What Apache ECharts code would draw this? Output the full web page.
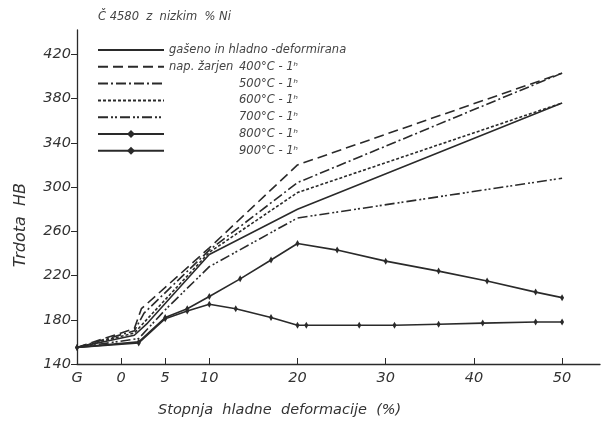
<!DOCTYPE html>
<html>
<head>
<meta charset="utf-8">
<script src="https://cdn.jsdelivr.net/npm/echarts@6/dist/echarts.min.js"></script>
<style>
html,body{margin:0;padding:0;background:#fff;}
#main{width:605px;height:428px;}
</style>
</head>
<body>
<div id="main"></div>
<script>
// ---- data ----
const xTickValues = [-5, 0, 5, 10, 20, 30, 40, 50];
const xTickLabels = ['G', '0', '5', '10', '20', '30', '40', '50'];
const yTickValues = [140, 180, 220, 260, 300, 340, 380, 420];

const seriesNames = [
  'gašeno in hladno -deformirana',
  '400°C - 1ʰ',
  '500°C - 1ʰ',
  '600°C - 1ʰ',
  '700°C - 1ʰ',
  '800°C - 1ʰ',
  '900°C - 1ʰ'
];

const solidData = [[-5,155],[1.5,166],[3,177],[10,239],[20,280],[50,376]];
const t400Data  = [[-5,155],[1.5,172],[2.3,190],[10,245],[20,320],[50,403]];
const t500Data  = [[-5,155],[1.5,170],[2.6,186],[10,243],[20,304],[50,403]];
const t600Data  = [[-5,155],[1.5,168],[3,181],[10,241],[20,295],[50,376]];
const t700Data  = [[-5,155],[2,163],[5,189],[10,228],[20,272],[50,308]];
const t800Data  = [[-5,155],[2,160],[5,182],[7.5,190],[10,201],[13.5,217],[17,234],[20,249],[24.5,243],[30,233],[36,224],[41.5,215],[47,205],[50,200]];
const t900Data  = [[-5,155],[2,159],[5,181],[7.5,188],[10,194],[13,190],[17,182],[20,175],[21,175],[27,175],[31,175],[36,176],[41,177],[47,178],[50,178]];

const title = 'Č 4580  z  nizkim  % Ni';
const xName = 'Stopnja  hladne  deformacije  (%)';
const yName = 'Trdota  HB';

// ---- chart ----
const INK = '#2a2a2a';
const FONT = 'DejaVu Sans';
const chart = echarts.init(document.getElementById('main'), null, {renderer: 'canvas'});

function lineSeries(name, data, type, markers) {
  return {
    name: name,
    type: 'line',
    data: data,
    symbol: markers ? 'diamond' : 'none',
    symbolSize: markers ? [4, 7] : 0,
    showSymbol: !!markers,
    itemStyle: {color: INK},
    lineStyle: {color: INK, width: 1.6, type: type},
    animation: false,
    z: 3
  };
}

const legendPad = {
  '400°C - 1ʰ': '{n|nap. žarjen }{t|400°C - 1ʰ}'
};

const markerSeries = [seriesNames[5], seriesNames[6]];

const option = {
  backgroundColor: '#fff',
  animation: false,
  title: {
    text: title,
    left: 93, top: 6,
    textStyle: {fontFamily: FONT, fontStyle: 'italic', fontWeight: 'normal', fontSize: 11.5, color: '#444'}
  },
  grid: {left: 77, right: 5, top: 30, bottom: 64, containLabel: false},
  legend: {
    orient: 'vertical',
    left: 92, top: 39,
    itemWidth: 66, itemHeight: 10, itemGap: 4.8,
    data: seriesNames.map(function (n) {
      return markerSeries.indexOf(n) >= 0 ? {name: n} : {name: n, itemStyle: {opacity: 0}};
    }),
    textStyle: {
      fontFamily: FONT, fontStyle: 'italic', fontSize: 11.5, color: '#444',
      rich: {
        n: {fontFamily: FONT, fontStyle: 'italic', fontSize: 11.5, color: '#444', width: 70},
        p: {width: 70},
        t: {fontFamily: FONT, fontStyle: 'italic', fontSize: 11.5, color: '#444'}
      }
    },
    formatter: function (name) {
      if (name === seriesNames[0]) return name;
      if (legendPad[name]) return legendPad[name];
      return '{p| }{t|' + name + '}';
    }
  },
  xAxis: {
    type: 'value',
    min: -5, max: 54.3,
    axisLine: {lineStyle: {color: INK, width: 1.3}},
    axisTick: {show: true, inside: true, length: 6, lineStyle: {color: INK}, customValues: xTickValues},
    axisLabel: {
      customValues: xTickValues,
      fontFamily: FONT, fontStyle: 'italic', fontSize: 14.5, color: '#333', margin: 7,
      formatter: function (v) {
        const i = xTickValues.indexOf(v);
        return i >= 0 ? xTickLabels[i] : '';
      }
    },
    splitLine: {show: false}
  },
  yAxis: {
    type: 'value',
    min: 140, max: 442,
    axisLine: {show: true, onZero: false, lineStyle: {color: INK, width: 1.3}},
    axisTick: {show: true, length: 6, lineStyle: {color: INK}, customValues: yTickValues},
    axisLabel: {
      customValues: yTickValues,
      fontFamily: FONT, fontStyle: 'italic', fontSize: 14.5, color: '#333', margin: 6
    },
    splitLine: {show: false}
  },
  graphic: [
    {
      type: 'text', left: 13, top: 183, rotation: Math.PI / 2,
      style: {text: yName, font: 'italic 16px "DejaVu Sans"', fill: '#333'}
    },
    {
      type: 'text', left: 158, top: 403,
      style: {text: xName, font: 'italic 14.5px "DejaVu Sans"', fill: '#333'}
    }
  ],
  series: [
    lineSeries(seriesNames[0], solidData, 'solid', false),
    lineSeries(seriesNames[1], t400Data, [10, 5], false),
    lineSeries(seriesNames[2], t500Data, [10, 3, 2, 3], false),
    lineSeries(seriesNames[3], t600Data, [3, 2], false),
    lineSeries(seriesNames[4], t700Data, [10, 3, 2, 2, 2, 3], false),
    lineSeries(seriesNames[5], t800Data, 'solid', true),
    lineSeries(seriesNames[6], t900Data, 'solid', true)
  ]
};
chart.setOption(option);
</script>
</body>
</html>
